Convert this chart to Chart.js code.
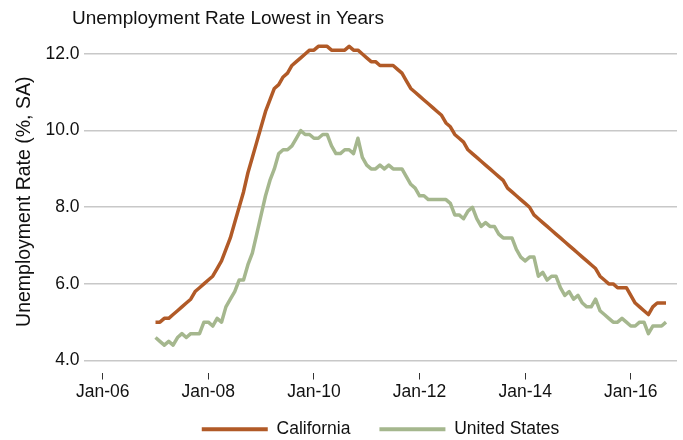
<!DOCTYPE html>
<html><head><meta charset="utf-8">
<script src="https://cdn.jsdelivr.net/npm/chart.js@4"></script>
<style>html,body{margin:0;padding:0;background:#fff}#wrap{width:683px;height:440px;position:relative}</style>
</head><body><div id="wrap"><canvas id="c"></canvas></div>
<script>
const chartTitle = 'Unemployment Rate Lowest in Years';
const yAxisTitle = 'Unemployment Rate (%, SA)';
const seriesNames = ['California', 'United States'];
// months counted from Jan-06; data starts Jan-07 (month 12), monthly
const firstMonth = 12;
const caRate = [
  5.0,5.0,5.1,5.1,5.2,5.3,5.4,5.5,5.6,5.8,5.9,6.0,
  6.1,6.2,6.4,6.6,6.9,7.2,7.6,8.0,8.4,8.9,9.3,9.7,
  10.1,10.5,10.8,11.1,11.2,11.4,11.5,11.7,11.8,11.9,12.0,12.1,
  12.1,12.2,12.2,12.2,12.1,12.1,12.1,12.1,12.2,12.1,12.1,12.0,
  11.9,11.8,11.8,11.7,11.7,11.7,11.7,11.6,11.5,11.3,11.1,11.0,
  10.9,10.8,10.7,10.6,10.5,10.4,10.2,10.1,9.9,9.8,9.7,9.5,
  9.4,9.3,9.2,9.1,9.0,8.9,8.8,8.7,8.5,8.4,8.3,8.2,
  8.1,8.0,7.8,7.7,7.6,7.5,7.4,7.3,7.2,7.1,7.0,6.9,
  6.8,6.7,6.6,6.5,6.4,6.2,6.1,6.0,6.0,5.9,5.9,5.9,
  5.7,5.5,5.4,5.3,5.2,5.4,5.5,5.5,5.5
];
const usRate = [
  4.6,4.5,4.4,4.5,4.4,4.6,4.7,4.6,4.7,4.7,4.7,5.0,
  5.0,4.9,5.1,5.0,5.4,5.6,5.8,6.1,6.1,6.5,6.8,7.3,
  7.8,8.3,8.7,9.0,9.4,9.5,9.5,9.6,9.8,10.0,9.9,9.9,
  9.8,9.8,9.9,9.9,9.6,9.4,9.4,9.5,9.5,9.4,9.8,9.3,
  9.1,9.0,9.0,9.1,9.0,9.1,9.0,9.0,9.0,8.8,8.6,8.5,
  8.3,8.3,8.2,8.2,8.2,8.2,8.2,8.1,7.8,7.8,7.7,7.9,
  8.0,7.7,7.5,7.6,7.5,7.5,7.3,7.2,7.2,7.2,6.9,6.7,
  6.6,6.7,6.7,6.2,6.3,6.1,6.2,6.2,5.9,5.7,5.8,5.6,
  5.7,5.5,5.4,5.4,5.6,5.3,5.2,5.1,5.0,5.0,5.1,5.0,
  4.9,4.9,5.0,5.0,4.7,4.9,4.9,4.9,5.0
];
const xTickMonths = [0, 24, 48, 72, 96, 120];
const xTickLabels = ['Jan-06', 'Jan-08', 'Jan-10', 'Jan-12', 'Jan-14', 'Jan-16'];
const yTicks = [4, 6, 8, 10, 12];

const colors = ['#B15A27', '#A5B78E'];
const FONT = "'Liberation Sans', Arial, Helvetica, sans-serif";
const toPoints = arr => arr.map((v, i) => ({x: firstMonth + i, y: v}));

const layoutTweak = {
  id: 'layoutTweak',
  afterLayout(chart) {
    if (chart.titleBlock) chart.titleBlock.left = 72;
    if (chart.legend) {
      const h = chart.legend.height;
      chart.legend.top = 391.5;
      chart.legend.bottom = 391.5 + h;
    }
  }
};

new Chart(document.getElementById('c'), {
  type: 'line',
  data: {
    datasets: [
      {label: seriesNames[0], data: toPoints(caRate), borderColor: colors[0], backgroundColor: colors[0]},
      {label: seriesNames[1], data: toPoints(usRate), borderColor: colors[1], backgroundColor: colors[1]}
    ]
  },
  options: {
    responsive: true,
    maintainAspectRatio: false,
    animation: false,
    layout: {padding: {left: 0, right: 6, top: 0, bottom: -19}},
    elements: {
      line: {borderWidth: 3.5, tension: 0, borderJoinStyle: 'round', borderCapStyle: 'butt'},
      point: {radius: 0, hoverRadius: 0}
    },
    plugins: {
      tooltip: {enabled: false},
      title: {
        display: true, text: chartTitle, align: 'start', color: '#111',
        font: {family: FONT, size: 19, weight: 'normal'},
        padding: {top: 7, bottom: 1.2}
      },
      legend: {
        position: 'bottom', fullSize: false,
        labels: {
          boxWidth: 66, boxHeight: 4, padding: 29, color: '#111',
          font: {family: FONT, size: 17.5},
          generateLabels: (chart) => Chart.defaults.plugins.legend.labels.generateLabels(chart)
            .map(l => Object.assign({}, l, {lineWidth: 0, fillStyle: l.strokeStyle}))
        }
      }
    },
    scales: {
      x: {
        type: 'linear', min: -4.25, max: 130.5,
        afterBuildTicks: s => { s.ticks = xTickMonths.map(v => ({value: v})); },
        afterFit: s => { s.height = 30; },
        border: {display: false},
        grid: {drawOnChartArea: false, drawTicks: true, tickLength: 7, color: '#333', lineWidth: 1},
        ticks: {
          autoSkip: false, maxRotation: 0, padding: 2, color: '#111',
          font: {family: FONT, size: 17.5},
          callback: v => xTickLabels[xTickMonths.indexOf(v)]
        }
      },
      y: {
        min: 3.687, max: 12.6,
        afterBuildTicks: s => { s.ticks = yTicks.map(v => ({value: v})); },
        afterFit: s => { s.width = 84; },
        border: {display: false},
        grid: {drawTicks: false, color: '#c8c8c8', lineWidth: 1.5},
        ticks: {
          padding: 4.5, color: '#111',
          font: {family: FONT, size: 17.5},
          callback: v => Number(v).toFixed(1)
        },
        title: {
          display: true, text: yAxisTitle, color: '#111',
          font: {family: FONT, size: 19.5},
          padding: {top: 12.5, bottom: 0}
        }
      }
    }
  },
  plugins: [layoutTweak]
});
</script>
</body></html>
